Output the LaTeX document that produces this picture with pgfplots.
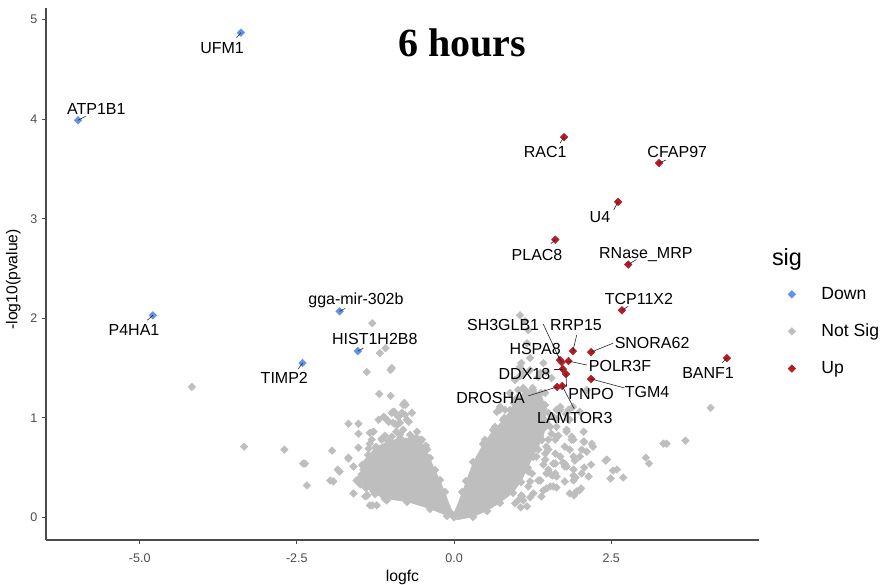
\documentclass[border=0pt]{standalone}
\usepackage{fontspec}
\setmainfont{Liberation Sans}
\newfontfamily\titlefont{Liberation Serif}
\usepackage{pgfplots}
\pgfplotsset{compat=1.18}

\definecolor{downc}{RGB}{97,146,236}
\definecolor{upc}{RGB}{178,30,36}
\definecolor{nsc}{RGB}{190,190,190}
\definecolor{tickc}{RGB}{77,77,77}

\pgfplotsset{
  dmd/.style={only marks, mark=square*, mark size=2pt,
    mark options={rotate=45, draw=#1, fill=#1}},
}
\tikzset{
  lbl/.style={font=\fontsize{12}{14}\selectfont, inner sep=0pt},
  seg/.style={line width=0.45pt, black!85},
}

\begin{document}
\begin{tikzpicture}
\begin{axis}[
  set layers,
  at={(0,0)}, anchor=south west,
  width=534.75pt, height=399pt, scale only axis,
  xmin=-6.49, xmax=4.85, ymin=-0.228, ymax=5.118,
  axis lines*=left,
  axis line style={draw=black!70, line width=0.8pt},
  xtick={-5,-2.5,0,2.5}, xticklabels={-5.0,-2.5,0.0,2.5},
  ytick={0,1,2,3,4,5}, yticklabels={0,1,2,3,4,5},
  tick align=outside, major tick length=3pt,
  tick style={draw=black!70, line width=0.8pt},
  tick label style={font=\fontsize{9.4}{11}\selectfont, text=tickc},
  xticklabel style={yshift=-4pt},
  xlabel={logfc}, ylabel={-log10(pvalue)},
  label style={font=\fontsize{11.8}{14}\selectfont},
  x label style={at={(axis description cs:0.5,-0.07)}, anchor=center},
  y label style={at={(axis description cs:-0.046,0.49)}, anchor=center},
  clip=false,
  legend image code/.code={
    \draw[#1] plot coordinates {(0pt,0pt)};
    \path (-6pt,0pt) (20pt,0pt);},
  legend style={at={(axis description cs:1.0285,0.392)}, anchor=west,
    draw=none, fill=none, font=\fontsize{13.2}{15}\selectfont,
    row sep=13pt, cells={anchor=west}},
  legend entries={Down, Not Sig, Up},
]
\addlegendimage{dmd=downc}
\addlegendimage{dmd=nsc}
\addlegendimage{dmd=upc}

% dense core of the not-significant cloud (outline)
\addplot[fill=nsc, draw=none, forget plot] coordinates {
 (-0.016,-0.017) (-0.111,0.013) (-0.382,0.083) (-0.747,0.154) (-1.097,0.184)
 (-1.256,0.234) (-1.399,0.294) (-1.494,0.395) (-1.463,0.526) (-1.367,0.626)
 (-1.240,0.707) (-1.049,0.767) (-0.859,0.797) (-0.668,0.797) (-0.541,0.757)
 (-0.445,0.696) (-0.382,0.596) (-0.302,0.475) (-0.223,0.375) (-0.143,0.254)
 (-0.079,0.144) (-0.032,0.073) (0,0.053) (0.048,0.124) (0.127,0.254)
 (0.191,0.365) (0.302,0.556) (0.461,0.737) (0.620,0.877) (0.779,0.978)
 (0.890,1.078) (1.002,1.199) (1.129,1.269) (1.256,1.279) (1.383,1.249)
 (1.447,1.129) (1.479,0.928) (1.399,0.777) (1.256,0.606) (1.176,0.495)
 (1.065,0.355) (0.938,0.245) (0.731,0.144) (0.525,0.063) (0.302,0.003)
 (0.064,-0.027)} -- cycle;

% Not Sig: points along the edge of the dense core
\addplot[dmd=nsc, forget plot] coordinates {
 (-0.111,0.013) (-0.382,0.083) (-0.747,0.154) (-1.097,0.184)
 (-1.256,0.234) (-1.399,0.294) (-1.494,0.395) (-1.463,0.526) (-1.367,0.626)
 (-1.240,0.707) (-1.049,0.767) (-0.859,0.797) (-0.668,0.797) (-0.541,0.757)
 (-0.445,0.696) (-0.382,0.596) (-0.302,0.475) (-0.223,0.375) (-0.143,0.254)
 (0.127,0.254) (0.191,0.365) (0.302,0.556) (0.461,0.737) (0.620,0.877)
 (0.779,0.978) (0.890,1.078) (1.002,1.199) (1.129,1.269) (1.256,1.279)
 (1.383,1.249) (1.447,1.129) (1.479,0.928) (1.399,0.777) (1.256,0.606)
 (1.176,0.495) (1.065,0.355) (0.938,0.245) (0.731,0.144) (0.525,0.063)
 (0.302,0.003) (0,0)};

% Not Sig: scattered points
\addplot[dmd=nsc, forget plot] coordinates {
 (-4.17,1.31) (-3.34,0.71) (-2.70,0.68) (-2.40,0.54) (-2.37,0.54) (-2.34,0.32)
 (-1.94,0.67) (-1.97,0.37) (-1.92,0.36) (-1.85,0.48) (-1.82,0.46) (-1.68,0.60)
 (-1.68,0.94) (-1.60,0.24) (-1.52,0.94) (-1.52,0.84) (-1.52,0.70) (-1.52,0.36)
 (-1.49,0.33) (-1.39,1.46) (-1.30,1.95) (-1.18,1.65) (-1.09,1.70) (-1.19,1.24)
 (-1.01,1.22) (-0.99,1.50) (-1.01,1.48) (-0.95,1.06) (-0.79,1.15) (-0.77,1.13)
 (-1.20,0.98) (-1.12,1.01) (-0.94,0.94) (-0.90,0.93) (-0.78,1.03) (-1.34,0.85)
 (-1.34,0.74) (-1.39,0.56) (-1.47,0.43) (-1.41,0.21) (-1.34,0.12) (-1.30,0.12)
 (-0.97,1.06) (-0.86,1.03) (-1.10,1.00) (-0.75,0.98) (-0.97,0.95) (-0.86,0.95)
 (-1.29,0.86) (-0.81,0.88) (-0.70,0.83) (-0.54,0.78) (-1.10,0.82) (-0.92,0.86)
 (-0.60,0.80) (-0.45,0.72) (-1.38,0.56) (-1.41,0.30) (-1.38,0.22) (-1.25,0.70)
 (-1.15,0.78)
 (-0.81,1.13) (-0.99,1.05) (-0.83,1.05) (-0.89,1.01) (-0.67,1.05) (-0.72,0.96)
 (-1.04,0.96) (-1.28,0.86) (-1.31,0.78) (-1.15,0.79) (-0.99,0.81) (-0.86,0.83)
 (-0.59,0.86) (-0.51,0.78) (-0.43,0.68) (-1.36,0.69) (-1.68,0.59) (-1.60,0.51)
 (-1.44,0.48) (-1.55,0.37) (-1.28,0.39) (-1.28,0.26) (-1.12,0.21) (-1.23,0.12)
 (-1.07,0.17)
 (4.08,1.10) (3.68,0.77) (3.33,0.74) (3.38,0.74) (3.05,0.60) (3.10,0.54)
 (2.69,0.40) (2.53,0.47) (2.49,0.39) (2.41,0.57) (2.19,0.74) (2.07,0.76)
 (2.11,0.66) (2.18,0.53) (2.07,0.50) (1.92,0.57) (1.90,0.42) (1.93,0.40)
 (1.99,0.27) (2.02,0.29) (1.91,0.22) (1.76,0.36) (1.76,0.54) (1.73,0.55)
 (1.61,0.64) (1.87,0.78) (1.79,0.88) (1.66,0.82) (1.45,0.64) (1.61,0.54)
 (1.50,0.48) (1.54,0.43) (1.57,0.42) (1.47,0.29) (1.63,0.30) (1.42,0.53)
 (1.37,0.37) (1.21,0.36) (1.18,0.46) (1.07,0.22) (1.06,0.10) (1.21,0.20)
 (1.02,0.17) (1.34,0.68) (1.30,0.78) (1.50,0.78) (1.53,0.91) (1.69,1.11)
 (1.82,1.08) (1.42,1.09) (1.21,0.88) (1.16,0.71) (1.50,0.68) (1.61,0.78)
 (1.76,0.71) (1.87,0.81) (2.14,0.41) (1.34,0.98) (1.50,1.05) (1.63,1.08)
 (1.47,0.96) (1.63,0.91) (1.82,0.98) (2.06,0.86) (2.11,1.28) (1.89,1.11)
 (1.78,1.04) (2.00,1.06) (1.63,0.99)
 (1.47,0.94) (1.63,0.81) (1.79,0.86) (1.90,0.78) (2.06,0.76) (2.21,0.71)
 (1.84,0.68) (2.00,0.61) (1.69,0.61) (1.58,0.54) (1.79,0.51) (1.90,0.48)
 (1.47,0.44) (1.63,0.41) (1.37,0.37) (1.90,0.37) (1.58,0.31) (1.42,0.27)
 (1.26,0.24) (1.10,0.17) (1.16,0.11) (1.84,0.24) (1.95,0.26) (2.43,0.58)
 (2.59,0.48) (1.47,0.71) (1.37,0.81) (1.58,1.01) (1.69,1.08) (1.84,0.98)
 (0.73,1.11) (0.73,1.08) (1.05,1.51) (1.37,1.45)
 (1.05,2.03) (1.13,1.97) (1.18,1.88) (1.16,1.75) (1.21,1.60) (1.07,1.55)
 (1.21,1.48) (1.34,1.41) (1.47,1.46) (1.42,1.55) (1.55,1.40) (0.97,1.38)
 (0.89,1.25) (1.10,1.30) (1.25,1.30) (1.45,1.25) (1.05,1.42) (0.80,1.00)
 (0.95,1.15) (1.10,1.45) (1.02,1.28) (0.68,1.06)
 (1.45,0.91) (1.55,0.84) (1.39,0.78) (1.31,0.61) (1.45,0.58) (1.24,0.44)
 (1.34,0.37) (1.18,0.31) (1.08,0.21) (0.97,0.14) (1.39,0.21) (1.53,0.31)
 (1.61,0.44) (1.76,0.51) (1.90,0.61) (2.03,0.44) (2.03,0.68)
 (0.65,0.91) (0.81,1.08) (0.97,1.18) (1.13,1.28) (0.49,0.78)};

% Down
\addplot[dmd=downc, forget plot] coordinates {
 (-3.39,4.87) (-5.98,3.99) (-4.79,2.03) (-1.82,2.07) (-1.53,1.67) (-2.41,1.55)};

% Up
\addplot[dmd=upc, forget plot] coordinates {
 (1.75,3.82) (3.26,3.56) (2.61,3.17) (1.61,2.79) (2.77,2.54) (2.67,2.08)
 (1.89,1.67) (2.18,1.66) (1.685,1.58) (1.71,1.56) (1.82,1.57) (1.73,1.49)
 (1.78,1.44) (1.64,1.31) (1.72,1.32) (2.18,1.39) (4.34,1.60)};

\begin{pgfonlayer}{axis foreground}
% label connectors
\draw[seg] (axis cs:-3.39,4.87) -- (axis cs:-3.46,4.82);
\draw[seg] (axis cs:-5.98,3.99) -- (axis cs:-5.86,4.03);
\draw[seg] (axis cs:1.75,3.82) -- (axis cs:1.685,3.76);
\draw[seg] (axis cs:3.26,3.56) -- (axis cs:3.37,3.59);
\draw[seg] (axis cs:2.61,3.17) -- (axis cs:2.54,3.09);
\draw[seg] (axis cs:1.61,2.79) -- (axis cs:1.54,2.75);
\draw[seg] (axis cs:2.77,2.54) -- (axis cs:2.90,2.59);
\draw[seg] (axis cs:2.67,2.08) -- (axis cs:2.77,2.12);
\draw[seg] (axis cs:-1.82,2.07) -- (axis cs:-1.73,2.10);
\draw[seg] (axis cs:-4.79,2.03) -- (axis cs:-4.88,1.98);
\draw[seg] (axis cs:-1.53,1.67) -- (axis cs:-1.44,1.70);
\draw[seg] (axis cs:-2.41,1.55) -- (axis cs:-2.48,1.49);
\draw[seg] (axis cs:1.42,1.94) -- (axis cs:1.685,1.58);
\draw[seg] (axis cs:1.95,1.83) -- (axis cs:1.89,1.67);
\draw[seg] (axis cs:1.65,1.63) -- (axis cs:1.71,1.56);
\draw[seg] (axis cs:2.53,1.75) -- (axis cs:2.18,1.66);
\draw[seg] (axis cs:2.11,1.53) -- (axis cs:1.82,1.57);
\draw[seg] (axis cs:1.59,1.49) -- (axis cs:1.73,1.49);
\draw[seg] (axis cs:1.78,1.44) -- (axis cs:1.79,1.31);
\draw[seg] (axis cs:1.18,1.22) -- (axis cs:1.64,1.31);
\draw[seg] (axis cs:1.72,1.32) -- (axis cs:1.91,1.09);
\draw[seg] (axis cs:2.18,1.39) -- (axis cs:2.71,1.30);
\draw[seg] (axis cs:4.34,1.60) -- (axis cs:4.26,1.55);

% gene labels
\node[lbl] at (axis cs:-3.69,4.72) {UFM1};
\node[lbl] at (axis cs:-5.69,4.10) {ATP1B1};
\node[lbl] at (axis cs:1.45,3.67) {RAC1};
\node[lbl] at (axis cs:3.55,3.67) {CFAP97};
\node[lbl] at (axis cs:2.32,3.02) {U4};
\node[lbl] at (axis cs:1.32,2.64) {PLAC8};
\node[lbl] at (axis cs:3.05,2.64) {RNase\_MRP};
\node[lbl] at (axis cs:2.94,2.19) {TCP11X2};
\node[lbl] at (axis cs:-1.56,2.18) {gga-mir-302b};
\node[lbl] at (axis cs:-5.09,1.88) {P4HA1};
\node[lbl] at (axis cs:-1.26,1.79) {HIST1H2B8};
\node[lbl] at (axis cs:-2.70,1.40) {TIMP2};
\node[lbl] at (axis cs:0.78,1.93) {SH3GLB1};
\node[lbl] at (axis cs:1.94,1.93) {RRP15};
\node[lbl] at (axis cs:1.29,1.69) {HSPA8};
\node[lbl] at (axis cs:3.15,1.75) {SNORA62};
\node[lbl] at (axis cs:2.64,1.52) {POLR3F};
\node[lbl] at (axis cs:1.12,1.44) {DDX18};
\node[lbl] at (axis cs:3.07,1.26) {TGM4};
\node[lbl] at (axis cs:4.04,1.45) {BANF1};
\node[lbl] at (axis cs:0.58,1.20) {DROSHA};
\node[lbl] at (axis cs:2.18,1.24) {PNPO};
\node[lbl] at (axis cs:1.92,1.00) {LAMTOR3};
\end{pgfonlayer}
\end{axis}

\node[anchor=base, font=\titlefont\bfseries\fontsize{30}{36}\selectfont]
  at (312pt,362.25pt) {6 hours};
\node[anchor=base west, inner sep=0pt, font=\fontsize{17.6}{20}\selectfont]
  at (544.3pt,206pt) {sig};

\pgfresetboundingbox
\useasboundingbox (-34.5pt,-33.75pt) rectangle (630pt,405pt);
\end{tikzpicture}
\end{document}
